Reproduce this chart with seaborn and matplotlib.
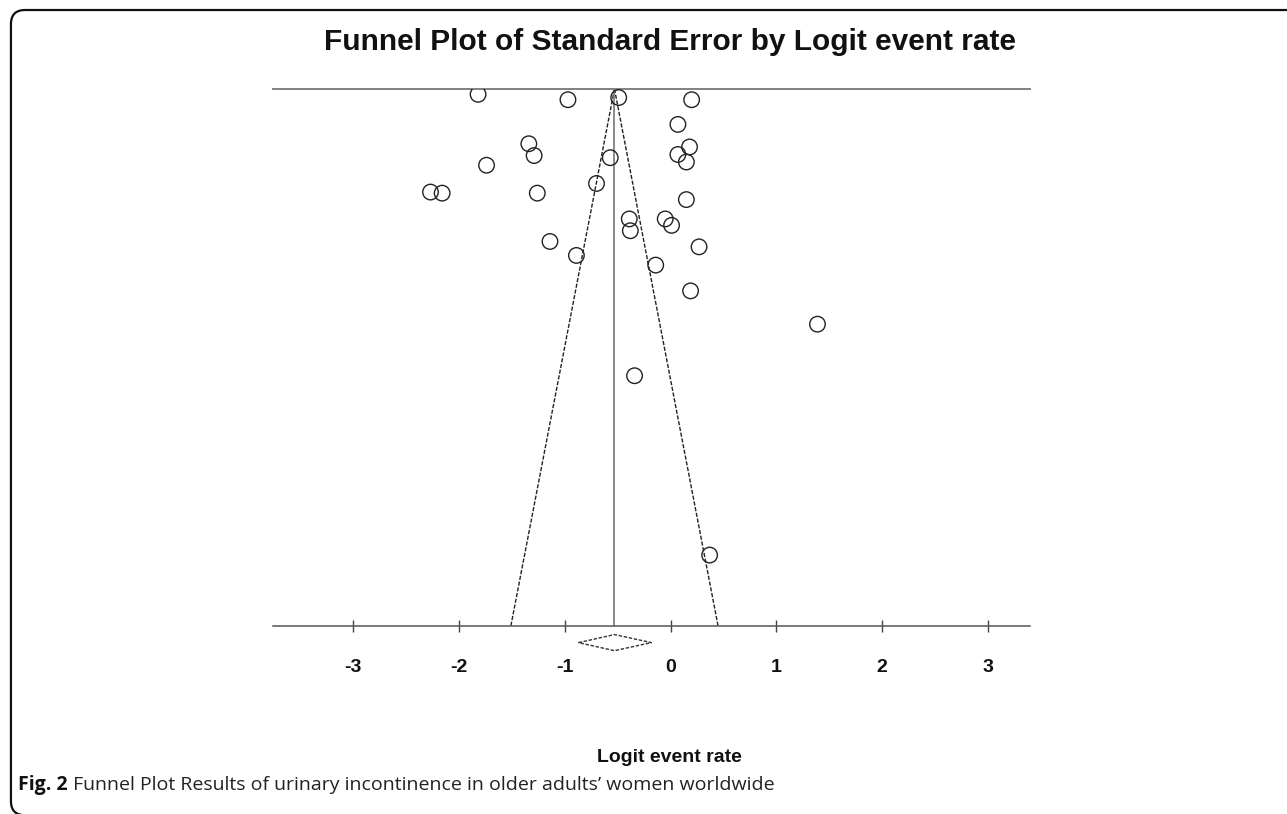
"""
Funnel plot (Logit event rate vs standard error), CMA-style.
"""

import matplotlib
matplotlib.use("Agg")
import matplotlib.pyplot as plt
from matplotlib.patches import FancyBboxPatch, Polygon
import numpy as np
import pandas as pd
import seaborn as sns

sns.set_theme(style="white")
plt.rcParams["font.family"] = ["Liberation Sans", "DejaVu Sans"]

# Estudios: logit event rate y error estándar
logit = [-1.82, -0.97, -0.49, 0.20, 0.07, -1.34, -1.29, 0.18, 0.07, 0.15,
         -0.57, -1.74, -0.70, -2.27, -2.16, -1.26, 0.15, -0.39, -0.38, -0.05,
         0.01, 0.27, -1.14, -0.89, -0.14, 0.19, 1.39, -0.34, 0.37]
std_err = [0.005, 0.010, 0.008, 0.010, 0.033, 0.051, 0.062, 0.054, 0.061, 0.068,
           0.064, 0.071, 0.088, 0.096, 0.097, 0.097, 0.103, 0.121, 0.132, 0.121,
           0.127, 0.147, 0.142, 0.155, 0.164, 0.188, 0.219, 0.267, 0.434]

pooled = -0.53          # estimación combinada
pooled_ci = (-0.87, -0.18)
se_max = 0.5
x_ticks = [-3, -2, -1, 0, 1, 2, 3]

df = pd.DataFrame({"logit": logit, "se": std_err})

fig = plt.figure(figsize=(12.87, 8.14), dpi=100)
ax = fig.add_axes([0.2121, 0.2310, 0.5882, 0.6597])

sns.scatterplot(data=df, x="logit", y="se", ax=ax, marker="o", s=125,
                facecolor="none", edgecolor="#222222", linewidth=1.0,
                zorder=3)

# embudo: pooled ± 1.96*SE
se_line = np.array([0, se_max])
ax.plot(pooled - 1.96 * se_line, se_line, color="#222222", lw=1.0,
        ls=(0, (3, 1.2)), zorder=2)
ax.plot(pooled + 1.96 * se_line, se_line, color="#222222", lw=1.0,
        ls=(0, (3, 1.2)), zorder=2)
ax.plot([pooled, pooled], [0, se_max], color="#777777", lw=1.2, zorder=2)

# diamante del efecto combinado (debajo del eje)
d_mid = 0.5155
d_half = 0.0075
diamond = Polygon([[pooled_ci[0], d_mid], [pooled, d_mid - d_half],
                   [pooled_ci[1], d_mid], [pooled, d_mid + d_half]],
                  closed=True, fill=False, edgecolor="#333333", lw=1.0,
                  ls=(0, (2.5, 1.2)), clip_on=False)
ax.add_patch(diamond)

ax.set_xlim(-3.76, 3.40)
ax.set_ylim(se_max, 0)
ax.set_xticks(x_ticks)
ax.set_xticklabels([str(t) for t in x_ticks], fontweight="bold", fontsize=14,
                   color="#111111")
ax.set_yticks([])
ax.tick_params(axis="x", direction="inout", length=8, width=1,
               color="#444444", pad=20, bottom=True)
ax.set_xlabel("Logit event rate", fontweight="bold", fontsize=14,
              color="#111111")
ax.xaxis.set_label_coords(0.524, -0.229)
ax.set_ylabel("")

for side in ("left", "right"):
    ax.spines[side].set_visible(False)
ax.spines["top"].set_color("#777777")
ax.spines["top"].set_linewidth(1.3)
ax.spines["bottom"].set_color("#555555")
ax.spines["bottom"].set_linewidth(1.1)

fig.text(0.5206, 0.948, "Funnel Plot of Standard Error by Logit event rate",
         ha="center", va="center", fontsize=21.5, fontweight="bold",
         color="#111111")

# pie de figura
cap_y = 0.029
cap = fig.text(0.014, cap_y, "Fig. 2", ha="left", va="baseline",
               fontsize=14, fontweight="bold",
               fontfamily=["Open Sans", "DejaVu Sans"], color="#111111")
ax.annotate(" Funnel Plot Results of urinary incontinence in older adults\u2019 women worldwide",
            xy=(1, cap_y), xycoords=(cap, "figure fraction"), ha="left",
            va="baseline", fontsize=14,
            fontfamily=["Open Sans", "DejaVu Sans"],
            color="#222222", annotation_clip=False)

# marco redondeado
frame = FancyBboxPatch((0.0085, -0.0015), 1.05, 0.9877 + 0.0015,
                       boxstyle="round,pad=0,rounding_size=0.011",
                       transform=fig.transFigure, fill=False,
                       edgecolor="#111111", lw=1.6, mutation_aspect=1.58)
fig.add_artist(frame)

fig.savefig("out.png", dpi=100)
